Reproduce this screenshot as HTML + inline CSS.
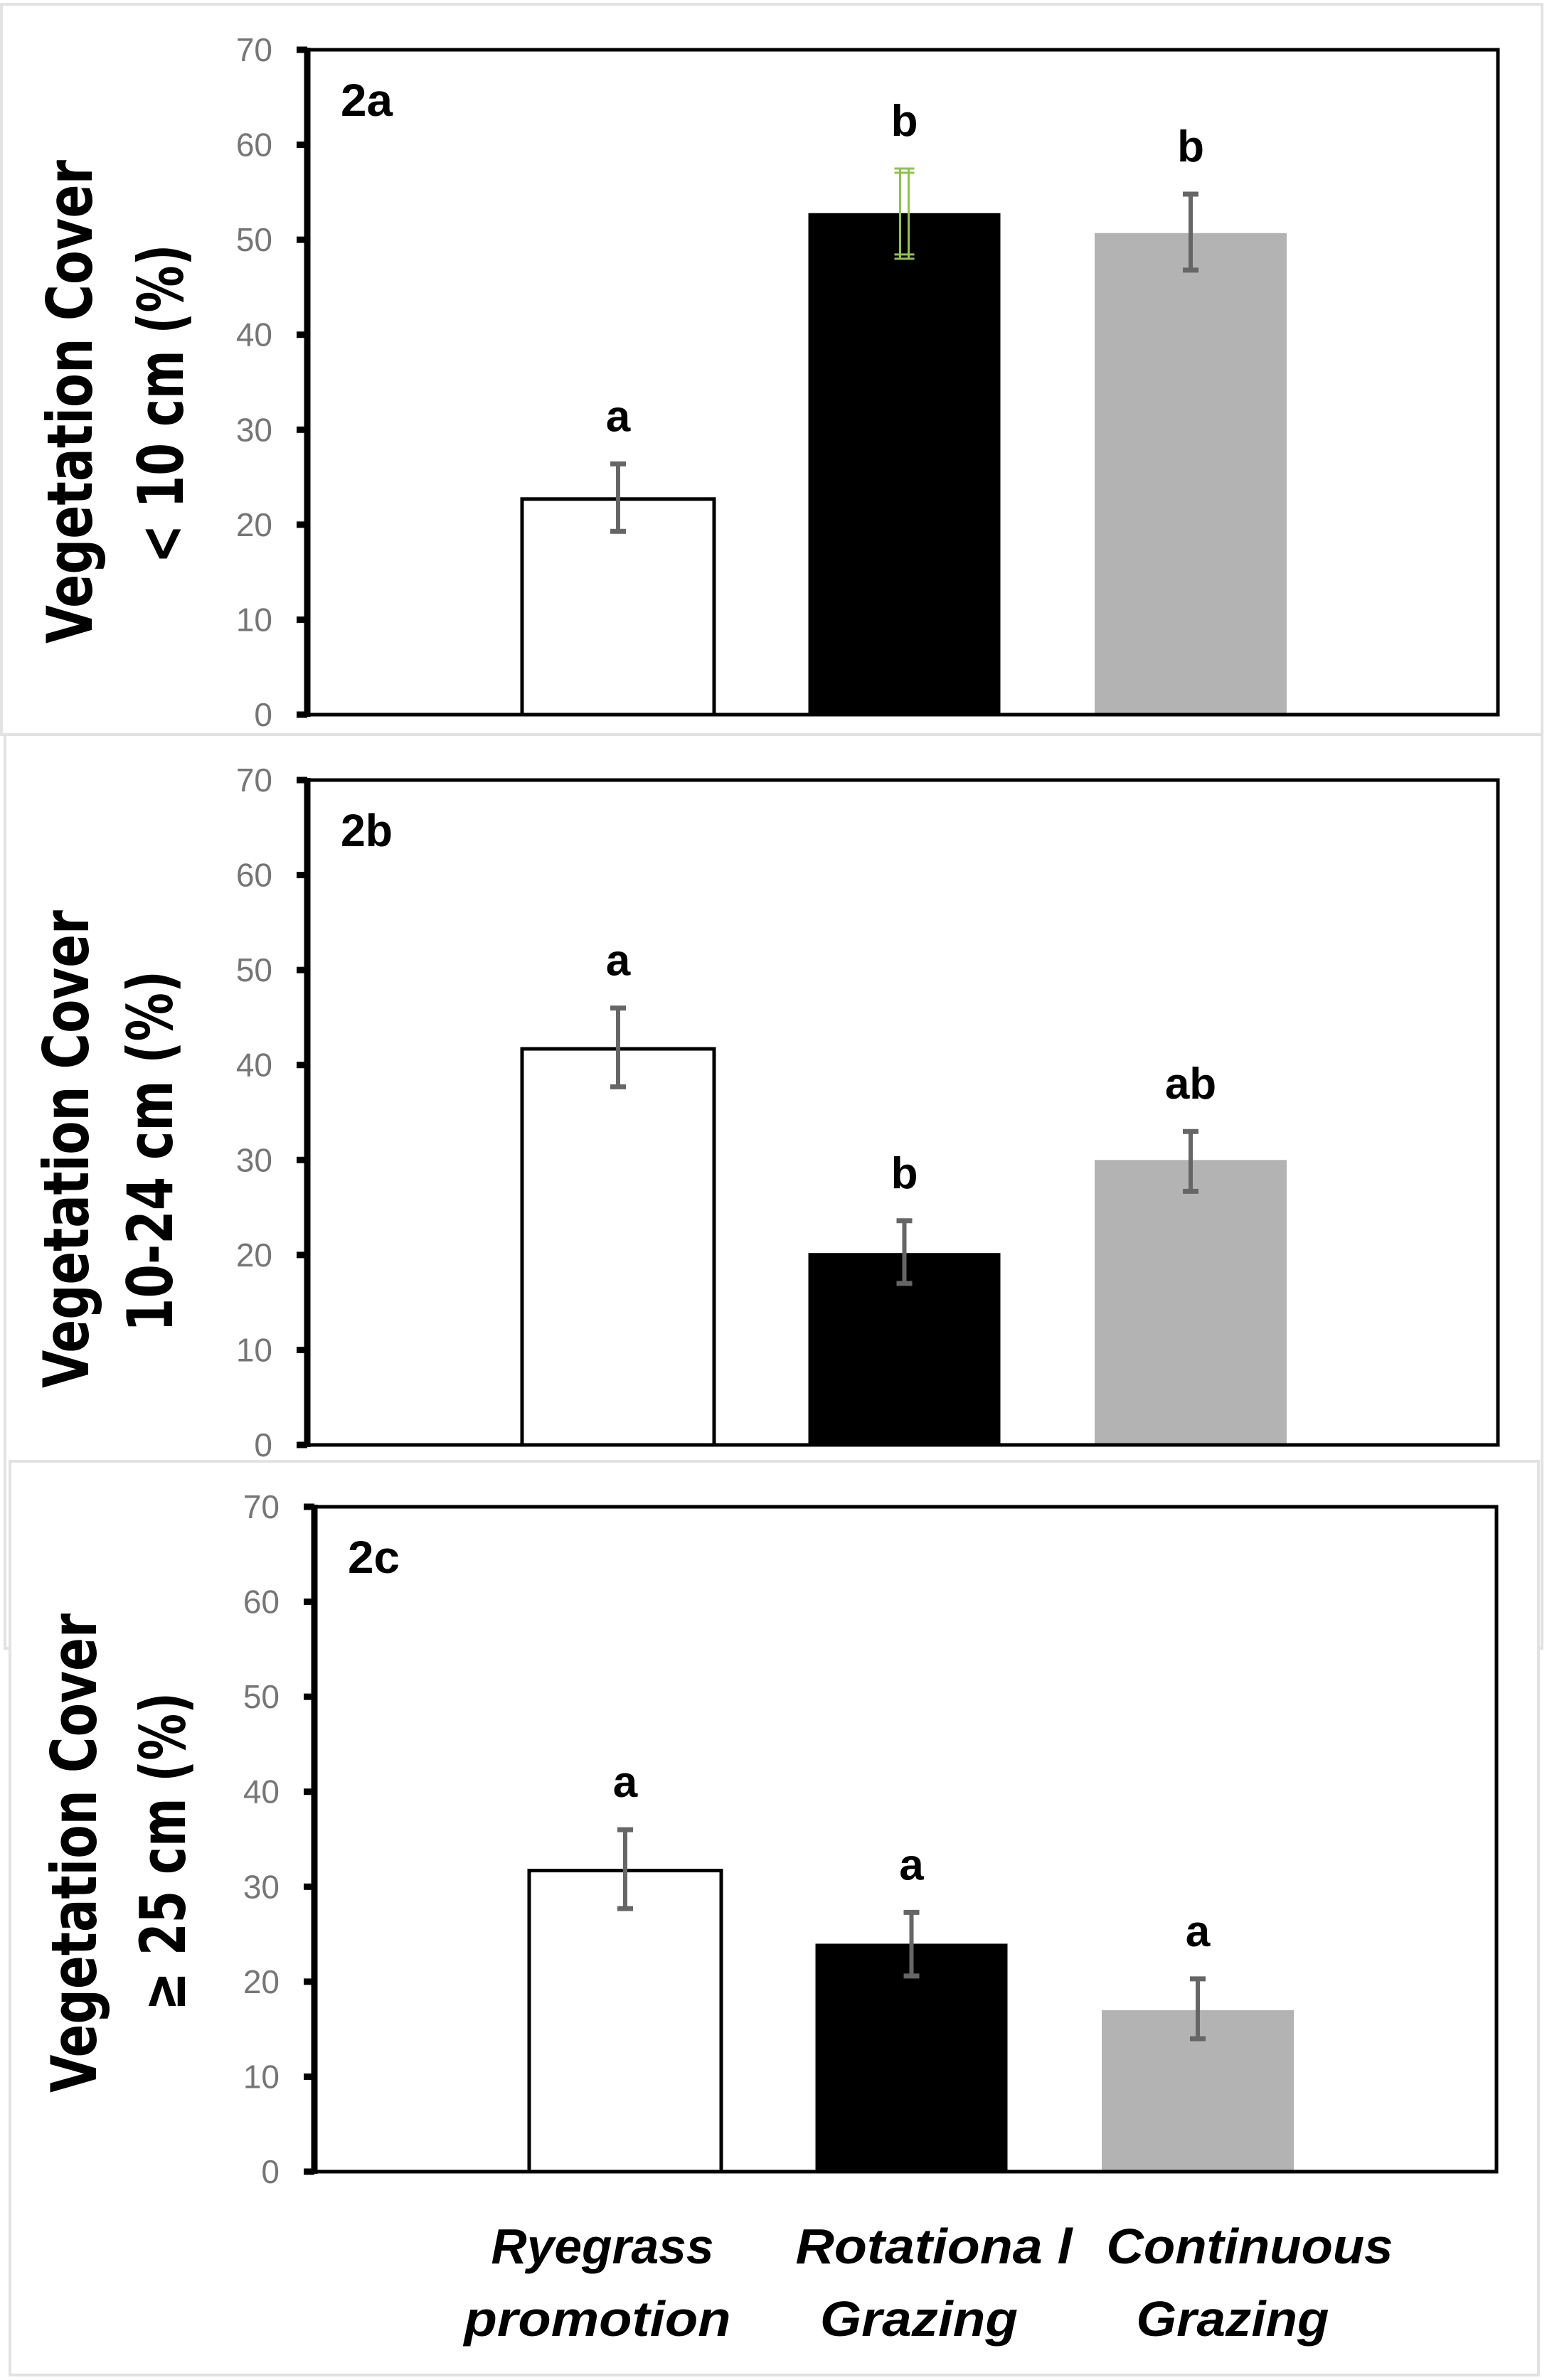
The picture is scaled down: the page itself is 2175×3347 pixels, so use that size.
<!DOCTYPE html>
<html><head><meta charset="utf-8"><style>
html,body{margin:0;padding:0;background:#fff;}
svg{display:block;}
</style></head><body>
<svg id="chart" width="2175" height="3347" xmlns="http://www.w3.org/2000/svg" font-family="Liberation Sans, sans-serif"></svg>
<script>
const categories = ["Ryegrass promotion","Rotational Grazing","Continuous Grazing"];
const panelNames = ["2a","2b","2c"];
const valuesA = [22.7, 52.8, 50.7];
const errHiA = [26.4, 57.5, 54.8];
const errLoA = [19.3, 48.0, 46.8];
const lettersA = ["a","b","b"];
const valuesB = [41.7, 20.2, 30.0];
const errHiB = [46.0, 23.6, 33.0];
const errLoB = [37.7, 17.0, 26.7];
const lettersB = ["a","b","ab"];
const valuesC = [31.7, 24.0, 17.0];
const errHiC = [36.0, 27.3, 20.3];
const errLoC = [27.7, 20.6, 14.0];
const lettersC = ["a","a","a"];
const yTicks = [0,10,20,30,40,50,60,70];
const yTitles1 = ["Vegetation  Cover","Vegetation  Cover","Vegetation  Cover"];
const yTitles2 = ["< 10 cm (%)","10-24 cm (%)","\u2265 25 cm (%)"];

const NS="http://www.w3.org/2000/svg";
const svg=document.getElementById('chart');
function mk(tag,attrs,parent){const e=document.createElementNS(NS,tag);for(const k in attrs)e.setAttribute(k,attrs[k]);(parent||svg).appendChild(e);return e;}

const layout=[
 {frame:[2,6,2166,1027],left:432,right:2106,top:70,bottom:1005,t1:[105,565],t2:[233,568]},
 {frame:[7,1033,2161,1285],left:432,right:2106,top:1097,bottom:2032,t1:[100,1616],t2:[218,1619]},
 {frame:[14,2055,2149,1285],left:442,right:2104,top:2119,bottom:3054,t1:[111,2606],t2:[236,2604]}
];
const allVals=[valuesA,valuesB,valuesC],allHi=[errHiA,errHiB,errHiC],allLo=[errLoA,errLoB,errLoC],allLet=[lettersA,lettersB,lettersC];
const fills=["#ffffff","#000000","#b3b3b3"];
const barW=270;

layout.forEach((L,p)=>{
 const g=mk('g',{});
 
 
 const fr=mk('rect',{x:L.frame[0],y:L.frame[1],width:L.frame[2],height:L.frame[3],fill:'#fff',stroke:'#e2e2e2','stroke-width':4},g);
 
 
 const y=v=>L.bottom-(v/70)*(L.bottom-L.top);
 const x=i=>L.left+437+i*402.5;
 allVals[p].forEach((v,i)=>{
  const r=mk('rect',{x:x(i)-barW/2,y:y(v),width:barW,height:L.bottom-y(v),fill:fills[i],stroke:i===0?'#000':'none','stroke-width':i===0?5:0},g);
  
  
 });
 const bx=mk('rect',{x:L.left,y:L.top,width:L.right-L.left,height:L.bottom-L.top,fill:'none',stroke:'#000','stroke-width':5},g);
 
 
 const ax=mk('line',{x1:L.left,y1:L.top-3,x2:L.left,y2:L.bottom+3,stroke:'#000','stroke-width':9},g);
 
 
 yTicks.forEach(t=>{
  const tk=mk('line',{x1:L.left-15,y1:y(t),x2:L.left,y2:y(t),stroke:'#000','stroke-width':9},g);
  
  
  const tl=mk('text',{x:L.left-49,y:y(t)+16,'text-anchor':'end','font-size':46,fill:'#767676'},g);
  tl.textContent=t;
  
  
 });
 allVals[p].forEach((v,i)=>{
  const hi=allHi[p][i],lo=allLo[p][i],cx=x(i);
  const eg=mk('g',{},g);
  
  
  if(p===0&&i===1){
   [-6,6].forEach(d=>mk('line',{x1:cx+d,y1:y(hi),x2:cx+d,y2:y(lo),stroke:'#92c050','stroke-width':3},eg));
   [y(hi),y(hi)+6,y(lo),y(lo)-6].forEach(yy=>mk('line',{x1:cx-14,y1:yy,x2:cx+14,y2:yy,stroke:'#92c050','stroke-width':3},eg));
  }else{
   mk('line',{x1:cx,y1:y(hi),x2:cx,y2:y(lo),stroke:'#666','stroke-width':6},eg);
   mk('line',{x1:cx-11,y1:y(hi),x2:cx+11,y2:y(hi),stroke:'#666','stroke-width':7},eg);
   mk('line',{x1:cx-11,y1:y(lo),x2:cx+11,y2:y(lo),stroke:'#666','stroke-width':7},eg);
  }
  const lt=mk('text',{x:cx,y:y(hi)-46,'text-anchor':'middle','font-size':62,'font-weight':'bold',fill:'#000'},g);
  lt.textContent=allLet[p][i];
  
  
 });
 const pl=mk('text',{x:L.left+47,y:L.top+93,'font-size':64,'font-weight':'bold',fill:'#000',textLength:73,lengthAdjust:'spacingAndGlyphs'},g);
 pl.textContent=panelNames[p];
 
 
 const len1=[680,672,674][p],len2=[449,508,448][p];
 const a1=mk('text',{x:L.t1[0]+24,y:L.t1[1],transform:`rotate(-90 ${L.t1[0]+24} ${L.t1[1]})`,'text-anchor':'middle','font-family':'DejaVu Sans, sans-serif','font-size':88,'font-weight':'bold',fill:'#000',textLength:len1,lengthAdjust:'spacingAndGlyphs'},g);
 a1.textContent=yTitles1[p];
 
 
 const a2=mk('text',{x:L.t2[0]+24,y:L.t2[1],transform:`rotate(-90 ${L.t2[0]+24} ${L.t2[1]})`,'text-anchor':'middle','font-family':'DejaVu Sans, sans-serif','font-size':88,'font-weight':'bold',fill:'#000',textLength:len2,lengthAdjust:'spacingAndGlyphs'},g);
 a2.textContent=yTitles2[p];
 
 
});
const xl1=["Ryegrass","Rotationa l","Continuous"],xl2=["promotion","Grazing","Grazing"];
const xc1=[847,1313,1757],xc2=[840,1292,1733],w1=[313,389,403],w2=[375,278,271];
categories.forEach((c,i)=>{
 const t=mk('text',{x:xc1[i],y:3183,'text-anchor':'middle','font-size':70,'font-weight':'bold','font-style':'italic',fill:'#000',textLength:w1[i],lengthAdjust:'spacingAndGlyphs'});
 t.textContent=xl1[i];
 
 
 const t2=mk('text',{x:xc2[i],y:3285,'text-anchor':'middle','font-size':70,'font-weight':'bold','font-style':'italic',fill:'#000',textLength:w2[i],lengthAdjust:'spacingAndGlyphs'});
 t2.textContent=xl2[i];
 
 
});
</script>
</body></html>
